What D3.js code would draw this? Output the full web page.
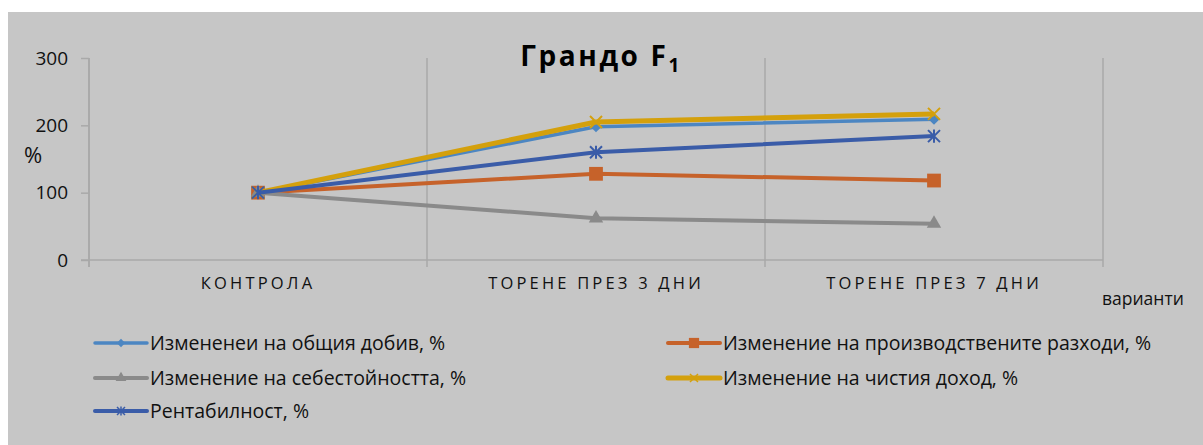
<!DOCTYPE html>
<html><head><meta charset="utf-8">
<script src="https://cdn.jsdelivr.net/npm/d3@7"></script>
<style>body{margin:0;background:#fff}</style>
</head><body>
<svg id="c" width="1203" height="445"></svg>
<script>
const categories = ["КОНТРОЛА", "ТОРЕНЕ ПРЕЗ 3 ДНИ", "ТОРЕНЕ ПРЕЗ 7 ДНИ"];
const yTicks = [0, 100, 200, 300];
const seriesNames = [
  "Измененеи на общия добив, %",
  "Изменение на производствените разходи, %",
  "Изменение на себестойността, %",
  "Изменение на чистия доход, %",
  "Рентабилност, %"
];
const yieldVals = [100, 198, 209];
const costVals = [100, 128, 118];
const unitCostVals = [100, 62, 54];
const incomeVals = [100, 205, 217];
const profitVals = [100, 160, 184];

(function () {
const series = [
  {name: seriesNames[0], values: yieldVals, color: "#4c86c2", width: 3.5, marker: "diamond", size: 80},
  {name: seriesNames[1], values: costVals, color: "#c6622a", width: 4, marker: "square", size: 190},
  {name: seriesNames[2], values: unitCostVals, color: "#8a8a8a", width: 4, marker: "triangle", size: 90},
  {name: seriesNames[3], values: incomeVals, color: "#d4a00c", width: 5, marker: "x", size: 12},
  {name: seriesNames[4], values: profitVals, color: "#3a5ca8", width: 4, marker: "star", size: 12}
];

const svg = d3.select("#c");
svg.append("rect").attr("x", 8).attr("y", 12).attr("width", 1195).attr("height", 433).attr("fill", "#c6c6c6");

const pL = 89, pR = 1103, pT = 58, pB = 260;
const x = d3.scaleBand().domain(categories).range([pL, pR]);
const y = d3.scaleLinear().domain([0, 300]).range([pB, pT]);
const gridCol = "#a9a9a9";
const font = "Open Sans";

const bounds = categories.map(c => x(c)).concat([pR]);
svg.append("g").selectAll("line").data(bounds).join("line")
  .attr("x1", d => d).attr("x2", d => d).attr("y1", pT).attr("y2", pB + 7)
  .attr("stroke", gridCol).attr("stroke-width", 1.5);

const yAxis = svg.append("g").attr("transform", `translate(${pL},0)`)
  .call(d3.axisLeft(y).tickValues(yTicks).tickSize(8).tickPadding(13));
yAxis.select(".domain").attr("stroke", gridCol).attr("stroke-width", 1.5).attr("d", `M0,${pT}V${pB + 7}`);
yAxis.selectAll(".tick line").attr("stroke", gridCol).attr("stroke-width", 1.5);
yAxis.selectAll(".tick text").attr("fill", "#111").attr("font-size", 19).attr("font-family", font);

svg.append("line").attr("x1", pL - 8).attr("x2", pR).attr("y1", pB).attr("y2", pB)
  .attr("stroke", gridCol).attr("stroke-width", 1.5);

const xAxis = svg.append("g").attr("transform", `translate(0,${pB})`)
  .call(d3.axisBottom(x).tickSize(0).tickPadding(17));
xAxis.select(".domain").remove();
xAxis.selectAll(".tick text").attr("fill", "#111").attr("font-size", 16.5)
  .attr("font-family", font).attr("letter-spacing", "3.2px");

const title = svg.append("text").attr("x", 601).attr("y", 66).attr("text-anchor", "middle")
  .attr("font-family", font).attr("font-weight", "bold").attr("font-size", 28)
  .attr("letter-spacing", "2.6px").attr("fill", "#000");
title.append("tspan").text("Грандо F");
title.append("tspan").text("1").attr("font-size", 19).attr("dy", 6);

svg.append("text").attr("x", 24).attr("y", 163).text("%")
  .attr("font-family", font).attr("font-size", 22).attr("fill", "#111");
svg.append("text").attr("x", 1102).attr("y", 305).text("варианти")
  .attr("font-family", font).attr("font-size", 17.5).attr("fill", "#111");

function markerPath(type, size) {
  if (type === "diamond") return d3.symbol(d3.symbolDiamond2, size)();
  if (type === "square") return d3.symbol(d3.symbolSquare, size)();
  if (type === "triangle") return d3.symbol(d3.symbolTriangle, size)();
  const s = size / 2;
  if (type === "x") return `M${-s},${-s}L${s},${s}M${-s},${s}L${s},${-s}`;
  return `M${-s},${-s}L${s},${s}M${-s},${s}L${s},${-s}M0,${-s * 1.1}L0,${s * 1.1}`;
}

const line = d3.line().x((d, i) => x(categories[i]) + x.bandwidth() / 2).y(d => y(d));
series.forEach(s => {
  const g = svg.append("g");
  g.append("path").attr("d", line(s.values)).attr("fill", "none")
    .attr("stroke", s.color).attr("stroke-width", s.width).attr("stroke-linejoin", "round");
  s.values.forEach((v, i) => {
    const p = g.append("path").attr("d", markerPath(s.marker, s.size))
      .attr("transform", `translate(${x(categories[i]) + x.bandwidth() / 2},${y(v)})`);
    if (s.marker === "x" || s.marker === "star") p.attr("fill", "none").attr("stroke", s.color).attr("stroke-width", 2);
    else p.attr("fill", s.color);
  });
});

const legPos = [[95, 343], [668, 343], [95, 378], [668, 378], [95, 411]];
series.forEach((s, i) => {
  const [lx, ly] = legPos[i];
  const g = svg.append("g").attr("transform", `translate(${lx},${ly})`);
  g.append("line").attr("x1", 0).attr("x2", 52).attr("y1", 0).attr("y2", 0)
    .attr("stroke", s.color).attr("stroke-width", s.width).attr("stroke-linecap", "round");
  const p = g.append("path").attr("d", markerPath(s.marker, s.marker === "x" || s.marker === "star" ? 8 : s.size * 0.55))
    .attr("transform", "translate(26,0)");
  if (s.marker === "x" || s.marker === "star") p.attr("fill", "none").attr("stroke", s.color).attr("stroke-width", 1.5);
  else p.attr("fill", s.color);
  g.append("text").attr("x", 55).attr("y", 7).text(s.name)
    .attr("font-family", font).attr("font-size", 19.5).attr("fill", "#111");
});
})();
</script>
</body></html>
